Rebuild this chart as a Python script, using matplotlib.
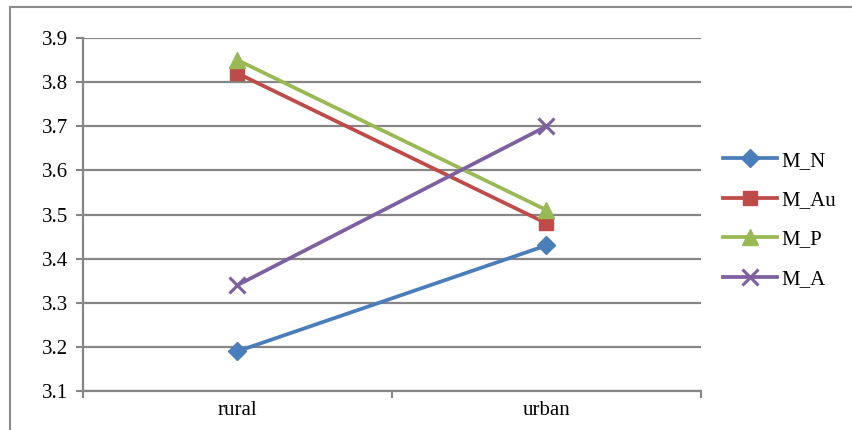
import matplotlib.pyplot as plt
from matplotlib.patches import Rectangle

plt.rcParams['font.family'] = ['Liberation Serif', 'DejaVu Serif']

# Mittelwerte nach Wohnort
groups = ['rural', 'urban']
m_n = [3.19, 3.43]
m_au = [3.82, 3.48]
m_p = [3.85, 3.51]
m_a = [3.34, 3.70]
y_ticks = [3.1, 3.2, 3.3, 3.4, 3.5, 3.6, 3.7, 3.8, 3.9]

fig = plt.figure(figsize=(8.53, 4.30), dpi=100)
ax = fig.add_axes([83 / 853, 1 - 391 / 430, 618 / 853, 353 / 430])

x = list(range(len(groups)))
ax.plot(x, m_n, color='#4A7EBB', lw=2.7, marker='D', ms=9, label='M_N')
ax.plot(x, m_au, color='#BE4B48', lw=2.7, marker='s', ms=10.5, label='M_Au')
ax.plot(x, m_p, color='#98B954', lw=2.7, marker='^', ms=11, label='M_P')
ax.plot(x, m_a, color='#7D60A0', lw=2.7, marker='x', ms=11, mew=2.2, label='M_A')

ax.set_xlim(-0.5, len(groups) - 0.5)
ax.set_ylim(3.1, 3.9)
ax.set_yticks(y_ticks)
ax.set_yticklabels([f'{v:.1f}' for v in y_ticks])
ax.set_xticks(x)
ax.set_xticklabels(groups)
ax.set_xticks([i - 0.5 for i in range(len(groups) + 1)], minor=True)
ax.tick_params(axis='x', which='major', length=0, pad=7, labelsize=15)
ax.tick_params(axis='x', which='minor', length=5, width=1.5, color='#868686')
ax.tick_params(axis='y', length=5, width=1.5, color='#868686', labelsize=15, pad=6)

ax.grid(axis='y', color='#868686', lw=1.6)
ax.set_axisbelow(True)
for side in ['top', 'right']:
    ax.spines[side].set_visible(False)
for side in ['left', 'bottom']:
    ax.spines[side].set_color('#868686')
    ax.spines[side].set_linewidth(1.6)

fig.legend(loc='center left', bbox_to_anchor=(723 / 853, 1 - 220 / 430),
           frameon=False, fontsize=15, handlelength=2.6, handletextpad=0.2,
           labelspacing=0.95, borderpad=0, borderaxespad=0)

# Rahmen um das Diagramm
fig.patches.append(Rectangle((10 / 853, -0.1), 1.0, 1 - 7 / 430 + 0.1,
                             transform=fig.transFigure, fill=False,
                             edgecolor='#8c8c8c', lw=1.5))

fig.savefig('out.png', dpi=100)
